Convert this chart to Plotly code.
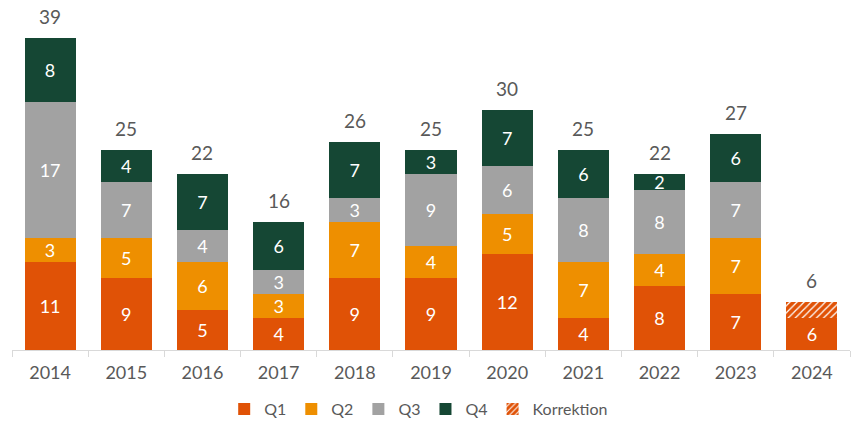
import plotly.graph_objects as go

years = ["2014", "2015", "2016", "2017", "2018", "2019", "2020", "2021", "2022", "2023", "2024"]
q1 = [11, 9, 5, 4, 9, 9, 12, 4, 8, 7, 4]
q1_labels = ["11", "9", "5", "4", "9", "9", "12", "4", "8", "7", "6"]
q2 = [3, 5, 6, 3, 7, 4, 5, 7, 4, 7, None]
q3 = [17, 7, 4, 3, 3, 9, 6, 8, 8, 7, None]
q4 = [8, 4, 7, 6, 7, 3, 7, 6, 2, 6, None]
korrektion = [None, None, None, None, None, None, None, None, None, None, 2]
totals = [39, 25, 22, 16, 26, 25, 30, 25, 22, 27, 6]

FONT = "Lato"
GRAY = "#595959"
colors = {"Q1": "#E05206", "Q2": "#EE8F00", "Q3": "#A2A2A2", "Q4": "#154734"}

fig = go.Figure()

def lbl(vals):
    return [("" if v is None else str(v)) for v in vals]

series = [("Q1", q1, q1_labels), ("Q2", q2, lbl(q2)), ("Q3", q3, lbl(q3)), ("Q4", q4, lbl(q4))]
for name, vals, texts in series:
    fig.add_trace(go.Bar(
        x=years, y=vals, name=name, text=texts,
        texttemplate="%{text}", textposition="inside", insidetextanchor="middle",
        textangle=0, constraintext="none",
        textfont=dict(family=FONT, size=18, color="white"),
        marker=dict(color=colors[name], line=dict(width=0)),
        hoverinfo="skip",
    ))

fig.add_trace(go.Bar(
    x=years, y=korrektion, name="Korrektion",
    marker=dict(color="#E05206", line=dict(width=0),
                pattern=dict(shape="/", fgcolor="#E05206", fgopacity=1, bgcolor="white",
                             size=5, solidity=0.75)),
    hoverinfo="skip",
))

# total labels above the stacked bar top (including correction); x given as category index
bar_tops = [t if k is None else q1[i] + k for i, (t, k) in enumerate(zip(totals, korrektion))]
for i, (top, tot) in enumerate(zip(bar_tops, totals)):
    fig.add_annotation(
        x=i, y=top, xref="x", yref="y", text=str(tot), showarrow=False,
        yanchor="bottom", yshift=8,
        font=dict(family=FONT, size=19, color=GRAY),
    )

fig.update_layout(
    width=851, height=421,
    barmode="stack", bargap=0.33,
    plot_bgcolor="white", paper_bgcolor="white",
    margin=dict(l=12, r=1, t=30, b=71, autoexpand=False),
    font=dict(family=FONT, color=GRAY),
    showlegend=True,
    legend=dict(orientation="h", x=0.492, xanchor="center", xref="container",
                y=0.028, yanchor="middle", yref="container",
                traceorder="normal", font=dict(family=FONT, size=16, color=GRAY),
                itemwidth=30, tracegroupgap=0),
)
fig.update_xaxes(
    type="category", range=[-0.5, 10.5], automargin=False,
    showline=True, linecolor="#D9D9D9", linewidth=1,
    ticks="outside", tickson="boundaries", ticklen=6, tickcolor="#D9D9D9",
    ticklabelstandoff=6,
    tickfont=dict(family=FONT, size=18, color=GRAY),
    showgrid=False,
)
fig.update_yaxes(range=[0, 40], visible=False, showgrid=False, automargin=False)

fig.write_html("out.html", config={"displayModeBar": False},
               post_script="document.body.style.margin='0';document.body.style.overflow='hidden';")
